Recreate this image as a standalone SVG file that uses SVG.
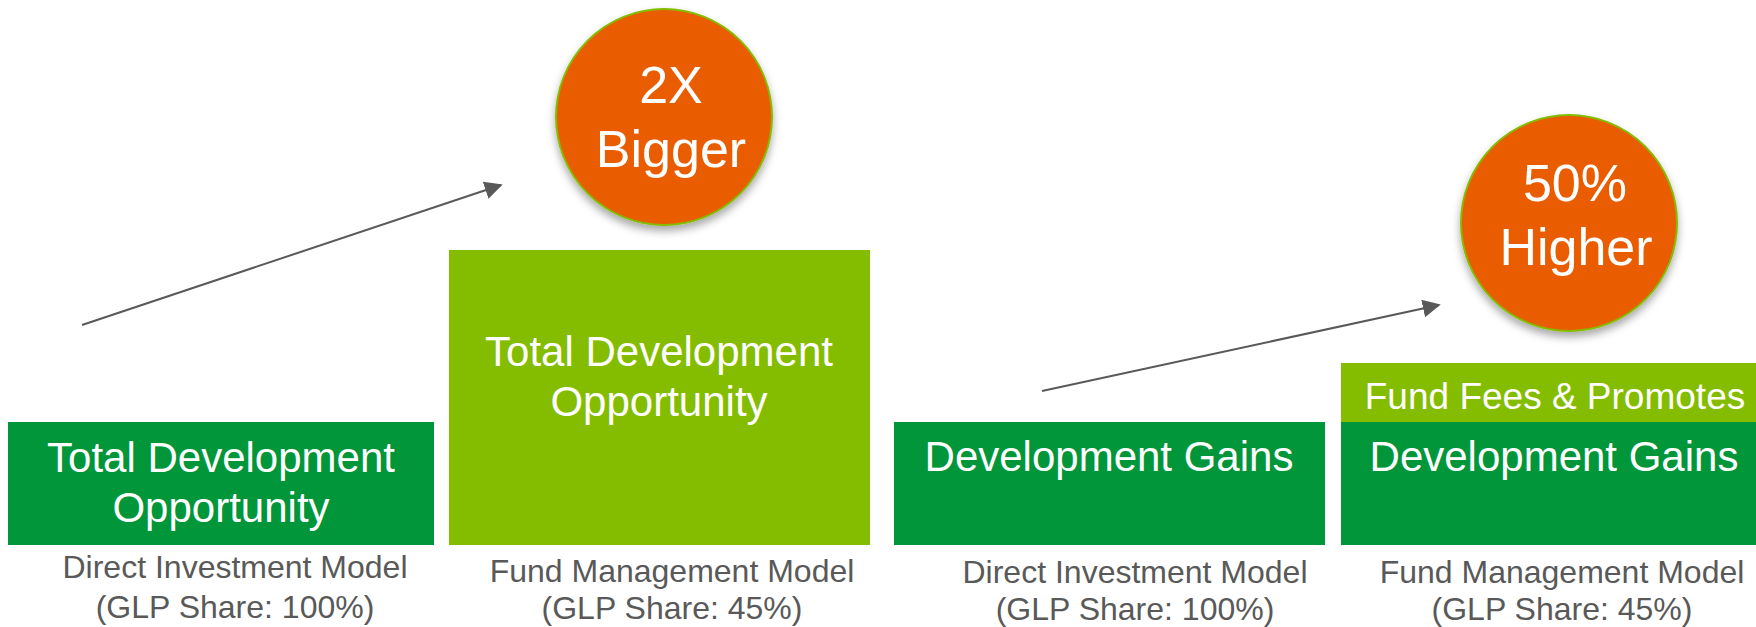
<svg xmlns="http://www.w3.org/2000/svg" width="1756" height="627" viewBox="0 0 1756 627">
  <style>
    .dark { fill: #009639; }
    .light { fill: #84BD00; }
    .badge { fill: #EA5C00; stroke: #84BD00; stroke-width: 2; }
    .box-text { font-family: "Liberation Sans", Arial, sans-serif; font-size: 42px; fill: #FFFFFF; text-anchor: middle; }
    .strip-text { font-family: "Liberation Sans", Arial, sans-serif; font-size: 37px; fill: #FFFFFF; text-anchor: middle; }
    .badge-text { font-family: "Liberation Sans", Arial, sans-serif; font-size: 52px; fill: #FFFFFF; text-anchor: middle; }
    .caption { font-family: "Liberation Sans", Arial, sans-serif; font-size: 32px; fill: #595959; text-anchor: middle; }
    .arrow { stroke: #595959; stroke-width: 2; fill: none; marker-end: url(#head); }
  </style>
  <defs>
    <marker id="head" viewBox="0 0 10 10" refX="9" refY="5" markerWidth="9" markerHeight="9" markerUnits="strokeWidth" orient="auto">
      <path d="M0,0 L10,5 L0,10 z" fill="#595959"/>
    </marker>
    <filter id="shadow" x="-20%" y="-20%" width="140%" height="150%">
      <feDropShadow dx="0" dy="5" stdDeviation="4" flood-color="#000000" flood-opacity="0.35"/>
    </filter>
  </defs>

  <rect width="1756" height="627" fill="#FFFFFF"/>

  <!-- connectors -->
  <g id="connectors">
    <line class="arrow" x1="82" y1="325" x2="501" y2="185"/>
    <line class="arrow" x1="1042" y1="391" x2="1439" y2="305"/>
  </g>

  <!-- column 1: direct investment, total opportunity -->
  <g id="direct-total">
    <rect class="dark" x="8" y="422" width="426" height="123"/>
    <text class="box-text" x="221" y="472">Total Development</text>
    <text class="box-text" x="221" y="522">Opportunity</text>
    <text class="caption" x="235" y="578">Direct Investment Model</text>
    <text class="caption" x="235" y="618">(GLP Share: 100%)</text>
  </g>

  <!-- column 2: fund management, total opportunity -->
  <g id="fund-total">
    <rect class="light" x="449" y="250" width="421" height="295"/>
    <text class="box-text" x="659" y="366">Total Development</text>
    <text class="box-text" x="659" y="416">Opportunity</text>
    <text class="caption" x="672" y="582">Fund Management Model</text>
    <text class="caption" x="672" y="619">(GLP Share: 45%)</text>
  </g>

  <!-- badge: 2X bigger -->
  <g id="badge-bigger">
    <circle class="badge" cx="664" cy="117" r="108" filter="url(#shadow)"/>
    <text class="badge-text" x="671" y="103">2X</text>
    <text class="badge-text" x="671" y="167">Bigger</text>
  </g>

  <!-- column 3: direct investment, development gains -->
  <g id="direct-gains">
    <rect class="dark" x="894" y="422" width="431" height="123"/>
    <text class="box-text" x="1109" y="471">Development Gains</text>
    <text class="caption" x="1135" y="583">Direct Investment Model</text>
    <text class="caption" x="1135" y="620">(GLP Share: 100%)</text>
  </g>

  <!-- column 4: fund management, gains plus fees -->
  <g id="fund-gains">
    <rect class="light" x="1341" y="363" width="415" height="59"/>
    <text class="strip-text" x="1555" y="409">Fund Fees &amp; Promotes</text>
    <rect class="dark" x="1341" y="422" width="415" height="123"/>
    <text class="box-text" x="1554" y="471">Development Gains</text>
    <text class="caption" x="1562" y="583">Fund Management Model</text>
    <text class="caption" x="1562" y="620">(GLP Share: 45%)</text>
  </g>

  <!-- badge: 50% higher -->
  <g id="badge-higher">
    <circle class="badge" cx="1569" cy="223" r="108" filter="url(#shadow)"/>
    <text class="badge-text" x="1575" y="201">50%</text>
    <text class="badge-text" x="1576" y="265">Higher</text>
  </g>
</svg>
